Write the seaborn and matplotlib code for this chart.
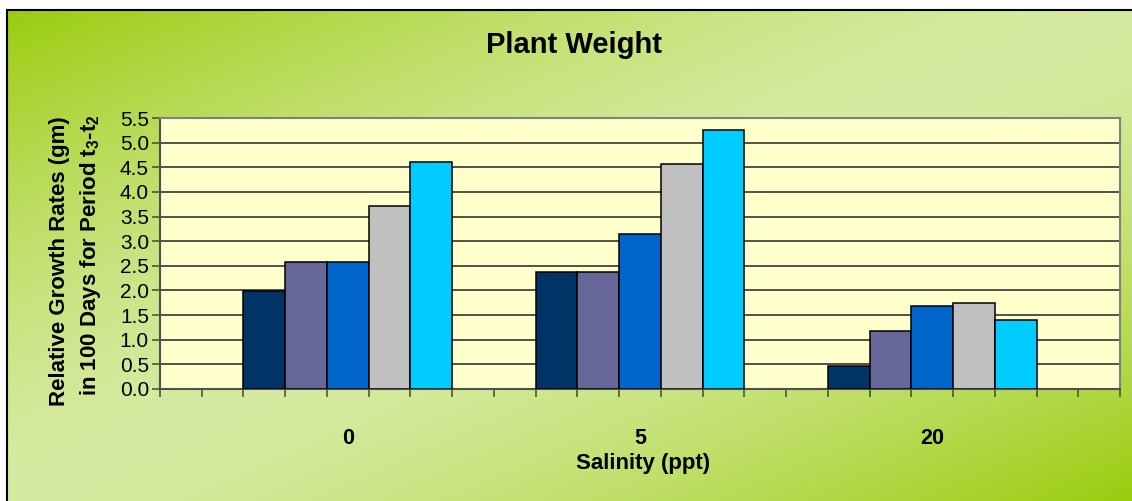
import numpy as np
import pandas as pd
import matplotlib
matplotlib.use("Agg")
import matplotlib.pyplot as plt
from matplotlib.colors import to_rgb
import seaborn as sns

# Data
salinity = ["0", "5", "20"]
series = ["Series 1", "Series 2", "Series 3", "Series 4", "Series 5"]
rates_0 = [1.98, 2.58, 2.58, 3.71, 4.61]
rates_5 = [2.38, 2.38, 3.15, 4.57, 5.26]
rates_20 = [0.47, 1.18, 1.69, 1.74, 1.41]
bar_colors = ["#003366", "#666699", "#0066CC", "#C0C0C0", "#00CCFF"]
y_ticks = np.arange(0, 5.51, 0.5)

rows = []
for sal, vals in zip(salinity, [rates_0, rates_5, rates_20]):
    for s, v in zip(series, vals):
        rows.append({"salinity": sal, "series": s, "rate": v})
df = pd.DataFrame(rows)

sns.set_theme(style="white")
plt.rcParams["font.family"] = ["Liberation Sans", "DejaVu Sans"]
plt.rcParams["text.color"] = "black"
plt.rcParams["axes.labelcolor"] = "black"
plt.rcParams["mathtext.fontset"] = "custom"
plt.rcParams["mathtext.rm"] = "Liberation Sans:bold"
plt.rcParams["mathtext.it"] = "Liberation Sans:bold"
plt.rcParams["mathtext.bf"] = "Liberation Sans:bold"

W, H = 1132, 501
fig = plt.figure(figsize=(W / 100, H / 100), dpi=100)
fig.patch.set_facecolor("white")

# Green diagonal gradient background with a black frame on top/left
bg = fig.add_axes([7 / W, 0, 1 - 7 / W, (H - 10) / H], zorder=0)
gx, gy = np.meshgrid(np.linspace(0, 1, 400), np.linspace(0, 1, 200))
t = np.abs(gx + gy - 1) ** 1.5
dark = np.array(to_rgb("#9BCC0E"))
light = np.array(to_rgb("#D6EBA2"))
img = light + (dark - light) * t[..., None]
bg.imshow(img, aspect="auto", extent=[0, 1, 1, 0], interpolation="bilinear")
bg.set_xlim(0, 1)
bg.set_ylim(1, 0)
bg.set_xticks([])
bg.set_yticks([])
for side in ["right", "bottom"]:
    bg.spines[side].set_visible(False)
for side in ["top", "left"]:
    bg.spines[side].set_color("black")
    bg.spines[side].set_linewidth(1.5)

# Plot area
ax = fig.add_axes([160 / W, (H - 389) / H, 960 / W, 271 / H], zorder=1)
ax.set_facecolor("#FFFFCC")

sns.barplot(data=df, x="salinity", y="rate", hue="series", order=salinity,
            hue_order=series, palette=bar_colors, width=5 / 7, gap=0,
            edgecolor="black", linewidth=1.1, saturation=1, legend=False,
            ax=ax, zorder=3)

half = 4.5 / 7
ax.set_xlim(-half, len(salinity) - 1 + half)
ax.set_ylim(0, 5.5)
ax.set_yticks(y_ticks)
ax.set_yticklabels([f"{v:.1f}" for v in y_ticks], fontsize=15)
ax.set_xticks(range(len(salinity)))
ax.set_xticklabels(salinity, fontsize=15.5, fontweight="bold")
ax.set_xticks(np.arange(-half, len(salinity) - 1 + half + 0.01, 1 / 7), minor=True)
ax.tick_params(axis="x", which="major", length=0, pad=28, labelcolor="black")
ax.tick_params(axis="x", which="minor", length=6, width=1.2, color="#4a5a2a",
               direction="out")
ax.tick_params(axis="y", which="major", length=6, width=1.2, color="#4a5a2a",
               direction="out", pad=2, labelcolor="black")
ax.tick_params(bottom=True, left=True, which="both")

ax.yaxis.grid(True, color="#333333", linewidth=1.2, zorder=1)
ax.set_axisbelow(True)
ax.set_xlabel("")
ax.set_ylabel("")

for side in ["top", "right"]:
    ax.spines[side].set_color("#808080")
    ax.spines[side].set_linewidth(1.5)
for side in ["bottom", "left"]:
    ax.spines[side].set_color("#505050")
    ax.spines[side].set_linewidth(1.5)

fig.text(574 / W, 1 - 45 / H, "Plant Weight", fontsize=21, fontweight="bold",
         ha="center", va="center", color="black")
fig.text(643 / W, 1 - 463 / H, "Salinity (ppt)", fontsize=16, fontweight="bold",
         ha="center", va="center", color="black")
fig.text(60 / W, 1 - 261 / H, "Relative Growth Rates (gm)", fontsize=16,
         fontweight="bold", rotation=90, ha="center", va="center", color="black")
fig.text(91 / W, 1 - 255 / H, "in 100 Days for Period t$_3$-t$_2$", fontsize=16,
         fontweight="bold", rotation=90, ha="center", va="center", color="black")

fig.savefig("out.png", dpi=100)
